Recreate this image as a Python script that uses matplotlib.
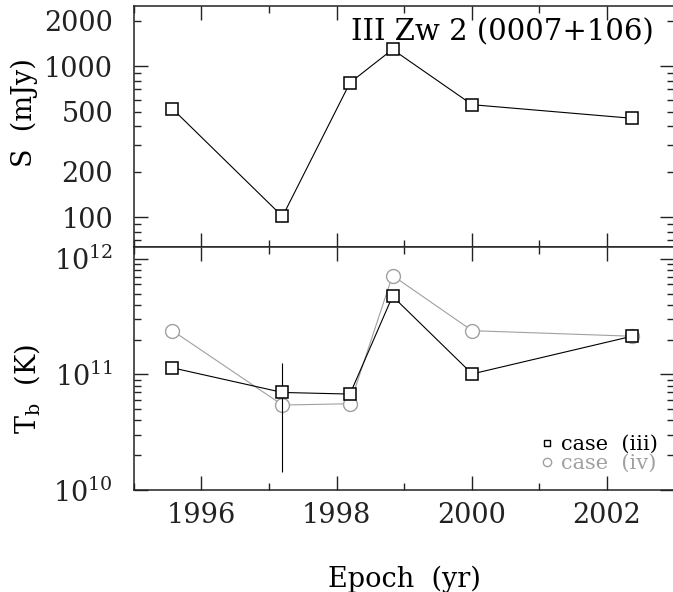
import numpy as np
import matplotlib
matplotlib.use("Agg")
import matplotlib.pyplot as plt
from matplotlib.ticker import (FixedLocator, FuncFormatter, LogLocator,
                               NullFormatter, LogFormatterMathtext)
from matplotlib.lines import Line2D

plt.rcParams['font.family'] = ['DejaVu Serif']
plt.rcParams['mathtext.fontset'] = 'dejavuserif'

# datos
epoca = [1995.57, 1997.20, 1998.20, 1998.83, 2000.01, 2002.38]
flujo = [521, 101, 776, 1290, 555, 451]          # mJy
tb_iii = [1.14e11, 6.98e10, 6.76e10, 4.75e11, 1.01e11, 2.14e11]
tb_iv = [2.39e11, 5.43e10, 5.58e10, 7.17e11, 2.39e11, 2.14e11]
err_epoca = [1997.20]
err_bajo = [1.44e10]
err_alto = [1.26e11]

etiquetas_s = [200, 500, 2000]
gris = '#a0a0a0'
fs = 19.5

fig = plt.figure(figsize=(6.73, 5.92), dpi=100)
ax1 = fig.add_axes([0.1991, 0.5823, 0.8024, 0.4081])
ax2 = fig.add_axes([0.1991, 0.1723, 0.8024, 0.41])


def ticks(ax):
    ax.set_xlim(1995, 2003)
    ax.xaxis.set_major_locator(FixedLocator([1996, 1998, 2000, 2002]))
    ax.xaxis.set_minor_locator(FixedLocator([1995, 1997, 1999, 2001, 2003]))
    ax.tick_params(which='both', direction='in', top=True, right=True,
                   width=1.0, labelsize=fs, colors='#222222')
    ax.tick_params(which='major', length=10)
    ax.tick_params(which='minor', length=5)
    ax.tick_params(axis='y', which='both', pad=15)
    ax.tick_params(axis='x', which='both', pad=9)
    for s in ax.spines.values():
        s.set_linewidth(1.1)
        s.set_color('#222222')


# panel superior: flujo
ax1.set_yscale('log')
ax1.set_ylim(10**1.8, 10**3.4)
ticks(ax1)
ax1.yaxis.set_major_locator(FixedLocator([100, 1000]))
ax1.yaxis.set_minor_locator(LogLocator(base=10, subs=np.arange(2, 10), numticks=20))
ax1.yaxis.set_major_formatter(FuncFormatter(lambda v, p: f'{v:.0f}'))
ax1.yaxis.set_minor_formatter(FuncFormatter(
    lambda v, p: f'{v:.0f}' if round(v) in etiquetas_s else ''))
ax1.tick_params(labelbottom=False)

ax1.plot(epoca, flujo, color='k', lw=0.8, marker='s', ms=8,
         mfc='white', mec='k', mew=1.1)
ax1.text(0.963, 0.858, 'III Zw 2 (0007+106)', ha='right', va='baseline',
         fontsize=21, transform=ax1.transAxes)
ax1.set_ylabel('S  (mJy)', fontsize=fs, va='center')
ax1.yaxis.set_label_coords(-0.204, 0.556)

# panel inferior: temperatura de brillo
ax2.set_yscale('log')
ax2.set_ylim(1e10, 10**12.1)
ticks(ax2)
ax2.yaxis.set_major_locator(LogLocator(base=10, numticks=10))
ax2.yaxis.set_major_formatter(LogFormatterMathtext())
ax2.yaxis.set_minor_locator(LogLocator(base=10, subs=np.arange(2, 10), numticks=20))
ax2.yaxis.set_minor_formatter(NullFormatter())

ax2.plot(epoca, tb_iv, color=gris, lw=0.8, marker='o', ms=10,
         mfc='white', mec=gris, mew=1.0)
ax2.vlines(err_epoca, err_bajo, err_alto, color='k', lw=0.8)
ax2.plot(epoca, tb_iii, color='k', lw=0.8, marker='s', ms=8,
         mfc='white', mec='k', mew=1.1)

h = [Line2D([], [], ls='none', marker='s', ms=5, mfc='none', mec='k', mew=1.0),
     Line2D([], [], ls='none', marker='o', ms=6, mfc='none', mec=gris, mew=1.0)]
ax2.legend(h, ['case  (iii)', 'case  (iv)'], loc='lower right', frameon=False,
           fontsize=15, handlelength=0.5, handletextpad=0.4, labelspacing=0.0,
           borderpad=0, borderaxespad=0, bbox_to_anchor=(0.97, 0.07),
           labelcolor=['k', gris])

ax2.set_ylabel(r'T$_{\mathrm{b}}$  (K)', fontsize=fs, va='center')
ax2.yaxis.set_label_coords(-0.1985, 0.416)
ax2.set_xlabel('Epoch  (yr)', fontsize=fs, va='baseline')
ax2.xaxis.set_label_coords(0.5, -0.400)

fig.savefig('out.png', dpi=100)
